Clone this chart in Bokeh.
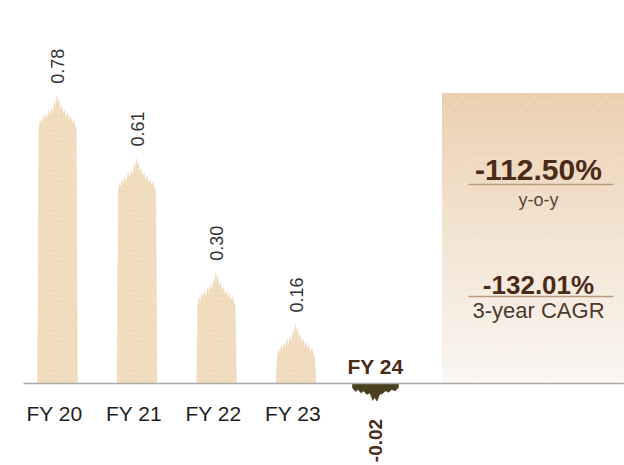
import numpy as np
from bokeh.plotting import figure
from bokeh.models import Range1d
from bokeh.core.properties import value
from bokeh.embed import file_html
from bokeh.resources import INLINE

# ---- data ----
categories = ["FY 20", "FY 21", "FY 22", "FY 23", "FY 24"]
values = [0.78, 0.61, 0.30, 0.16, -0.02]
value_labels = ["0.78", "0.61", "0.30", "0.16", "-0.02"]
yoy_label = "-112.50%"
yoy_caption = "y-o-y"
cagr_label = "-132.01%"
cagr_caption = "3-year CAGR"

# ---- layout helpers (pixel -> data) ----
W, H = 624, 465
X0_PX, DX_PX = 57, 79.5
BASE_PX, SCALE = 383, 369


def xd(px):
    return (px - X0_PX) / DX_PX


def yd(py):
    return (BASE_PX - np.asarray(py, dtype=float)) / SCALE


FONT = "Liberation Sans"
BAR_COLOR = "#EFDBBC"
NEG_COLOR = "#48401E"
BROWN = "#4A2A18"

p = figure(width=W, height=H, output_backend="svg", toolbar_location=None,
           x_range=Range1d(xd(0), xd(W)), y_range=Range1d(float(yd(H)), float(yd(0))),
           x_axis_type=None, y_axis_type=None, min_border=0)
p.grid.visible = False
p.outline_line_color = None
p.background_fill_color = "white"
p.border_fill_color = "white"

# ---- gradient side panel ----
n = 90
edges = np.linspace(93, 383, n + 1)
t = np.linspace(0, 1, n) ** 0.9
c_top = np.array([234, 206, 174])
c_bot = np.array([250, 246, 242])
cols = ["#%02x%02x%02x" % tuple(int(round(v)) for v in (c_top + (c_bot - c_top) * tt)) for tt in t]
p.quad(left=xd(442), right=xd(624), top=yd(edges[:-1]), bottom=yd(edges[1:]),
       fill_color=cols, line_color=cols, line_width=1)
p.quad(left=xd(442), right=xd(624), top=float(yd(93)), bottom=float(yd(383)),
       fill_color=None, line_color=None,
       hatch_pattern=",", hatch_color="#FFFFFF", hatch_alpha=0.25, hatch_scale=9)

# ---- bars with a ragged, peaked crown ----
bw = 0.5
crown_px = 32 / SCALE
rx = [-0.5, -0.46, -0.43, -0.39, -0.36, -0.32, -0.28, -0.24, -0.2, -0.16, -0.12, -0.08, -0.05,
      -0.02, 0.01, 0.04, 0.07, 0.11, 0.15, 0.19, 0.23, 0.27, 0.31, 0.35, 0.39, 0.43, 0.47, 0.5]
rh = [0.0, 0.22, 0.08, 0.35, 0.18, 0.42, 0.25, 0.55, 0.35, 0.62, 0.45, 0.8, 0.6,
      1.0, 0.72, 0.9, 0.55, 0.68, 0.4, 0.55, 0.28, 0.45, 0.2, 0.35, 0.12, 0.25, 0.05, 0.0]
xs_pos, ys_pos = [], []
for i, v in enumerate(values):
    if v <= 0:
        continue
    ch = min(crown_px, v * 0.55)
    body = v - ch
    xs = [i - bw / 2, i - bw * 0.47]
    ys = [0, body]
    for a, b in zip(rx, rh):
        xs.append(i + a * bw * 0.94)
        ys.append(body + b * ch)
    xs += [i + bw * 0.47, i + bw / 2]
    ys += [body, 0]
    xs_pos.append(xs)
    ys_pos.append(ys)
p.patches(xs_pos, ys_pos, fill_color=BAR_COLOR, line_color=BAR_COLOR, line_width=0.5,
          hatch_pattern=",", hatch_color="#F8EEDF", hatch_alpha=0.55, hatch_scale=5)

# negative bar with drips
dx = [-0.58, -0.5, -0.44, -0.36, -0.3, -0.22, -0.14, -0.07, -0.02, 0.04, 0.1, 0.17, 0.25, 0.33, 0.41, 0.5, 0.58]
dh = [0.6, 1.1, 0.8, 1.3, 1.0, 1.5, 1.3, 2.3, 1.9, 2.4, 1.5, 1.4, 1.0, 1.2, 0.8, 1.0, 0.5]
xs_neg, ys_neg = [], []
for i, v in enumerate(values):
    if v >= 0:
        continue
    xs = [i + dx[0] * bw]
    ys = [0]
    for a, b in zip(dx, dh):
        xs.append(i + a * bw)
        ys.append(v * b)
    xs.append(i + dx[-1] * bw)
    ys.append(0)
    xs_neg.append(xs)
    ys_neg.append(ys)
p.patches(xs_neg, ys_neg, fill_color=NEG_COLOR, line_color=NEG_COLOR, line_width=0.5)

# baseline
p.segment(x0=xd(23), x1=xd(624), y0=0, y1=0, line_color="#AAAAAA", line_width=1.5)

# ---- labels ----
pos_idx = [i for i, v in enumerate(values) if v > 0]
neg_idx = [i for i, v in enumerate(values) if v < 0]

p.text(x=pos_idx, y=[values[i] for i in pos_idx], text=[value_labels[i] for i in pos_idx],
       angle=np.pi / 2, text_align="left", text_baseline="middle", y_offset=-12,
       text_font=value(FONT), text_font_size="18px", text_color="#333333")
p.text(x=pos_idx, y=[0] * len(pos_idx), text=[categories[i] for i in pos_idx],
       text_align="center", text_baseline="middle", x_offset=-3, y_offset=30,
       text_font=value(FONT), text_font_size="21px", text_color="#1E1E1E")
p.text(x=neg_idx, y=[0] * len(neg_idx), text=[categories[i] for i in neg_idx],
       text_align="center", text_baseline="middle", y_offset=-17,
       text_font=value(FONT), text_font_size="21px", text_font_style="bold", text_color=BROWN)
p.text(x=neg_idx, y=[values[i] for i in neg_idx], text=[value_labels[i] for i in neg_idx],
       angle=np.pi / 2, text_align="right", text_baseline="middle", y_offset=28,
       text_font=value(FONT), text_font_size="19px", text_font_style="bold", text_color=BROWN)

# side panel texts
cx = xd(538)
p.text(x=[cx], y=[float(yd(169))], text=[yoy_label], text_align="center", text_baseline="middle",
       text_font=value(FONT), text_font_size="30px", text_font_style="bold", text_color=BROWN)
p.segment(x0=xd(468), x1=xd(613), y0=float(yd(184)), y1=float(yd(184)), line_color="#B89A7C", line_width=1.5)
p.text(x=[cx], y=[float(yd(199))], text=[yoy_caption], text_align="center", text_baseline="middle",
       text_font=value(FONT), text_font_size="18px", text_color="#5A4536")

p.text(x=[cx], y=[float(yd(284))], text=[cagr_label], text_align="center", text_baseline="middle",
       text_font=value(FONT), text_font_size="26px", text_font_style="bold", text_color=BROWN)
p.segment(x0=xd(468), x1=xd(613), y0=float(yd(296)), y1=float(yd(296)), line_color="#B89A7C", line_width=1.5)
p.text(x=[cx], y=[float(yd(310))], text=[cagr_caption], text_align="center", text_baseline="middle",
       text_font=value(FONT), text_font_size="22px", text_color="#4A3A30")

open("out.html", "w").write(file_html(p, INLINE))
